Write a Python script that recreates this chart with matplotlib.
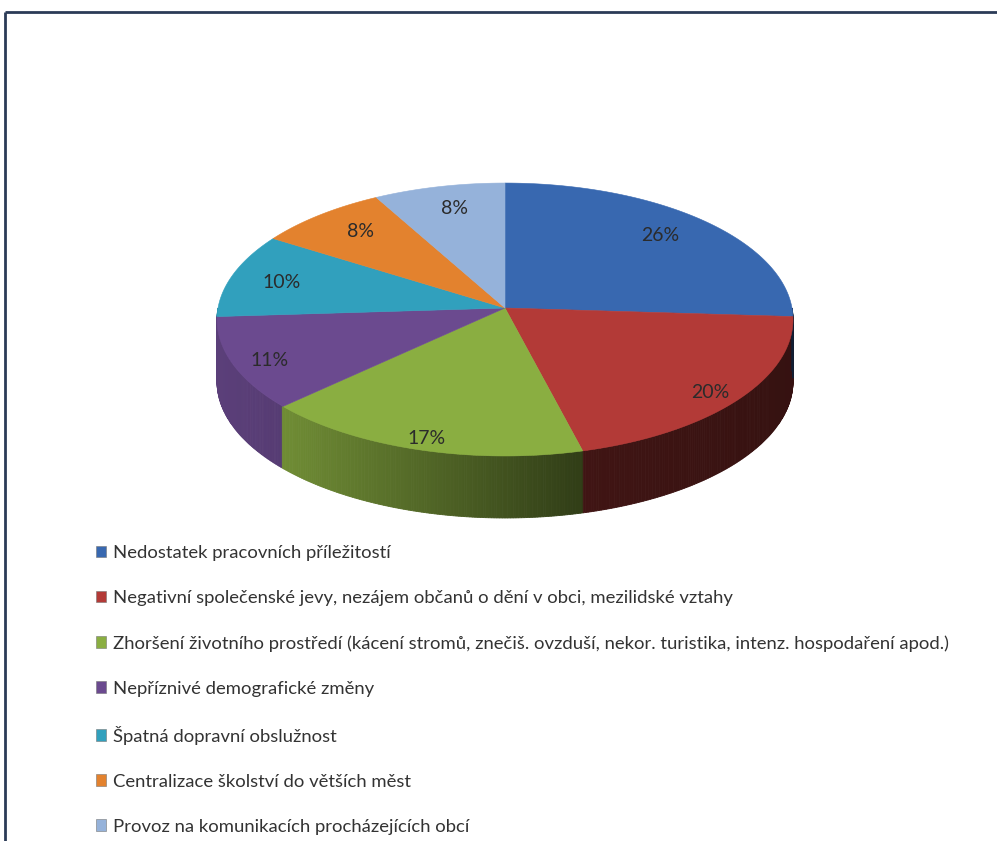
import numpy as np
import matplotlib.pyplot as plt
from matplotlib.patches import Polygon, Patch

plt.rcParams['font.family'] = ['Lato', 'DejaVu Sans']

categories = [
    "Nedostatek pracovních příležitostí",
    "Negativní společenské jevy, nezájem občanů o dění v obci, mezilidské vztahy",
    "Zhoršení životního prostředí (kácení stromů, znečiš. ovzduší, nekor. turistika, intenz. hospodaření apod.)",
    "Nepříznivé demografické změny",
    "Špatná dopravní obslužnost",
    "Centralizace školství do větších měst",
    "Provoz na komunikacích procházejících obcí",
]
shares = [26, 20, 17, 11, 10, 8, 8]
colors = ["#3868b0", "#b33a37", "#8aae41", "#6b4a8f", "#31a0bd", "#e3822e", "#95b2da"]

# geometry of the 3D pie (pixels)
cx, cy = 505, 308
A, B = 287, 135.5
persp = 0.0843
depth = 62


def project(theta_deg, r=1.0):
    t = np.radians(theta_deg)
    u = r * np.cos(t)
    v = -r * np.sin(t)
    w = 1.0 / (1.0 - persp * v)
    return cx + A * u * w, cy + B * v * w


def shade(hex_color, f):
    rgb = np.array(plt.matplotlib.colors.to_rgb(hex_color))
    return tuple(np.clip(rgb * f, 0, 1))


fig = plt.figure(figsize=(9.97, 8.41), dpi=100)
ax = fig.add_axes([0, 0, 1, 1])
ax.set_xlim(0, 997)
ax.set_ylim(841, 0)
ax.axis("off")

fracs = np.array(shares) / np.sum(shares)
cum = np.concatenate([[0], np.cumsum(fracs)])

# side wall (front half only)
thetas = np.linspace(-180, 0, 361)
for t0, t1 in zip(thetas[:-1], thetas[1:]):
    tm = 0.5 * (t0 + t1)
    d = ((90 - tm) % 360) / 360
    idx = min(np.searchsorted(cum, d) - 1, len(shares) - 1)
    x0, y0 = project(t0)
    x1, y1 = project(t1)
    nx = ((x0 + x1) / 2 - cx) / A
    f = np.interp(nx, [-1, -0.75, 0.25, 1], [0.85, 0.8, 0.36, 0.3])
    c = shade(colors[idx], f)
    ax.add_patch(Polygon([(x0, y0), (x1, y1), (x1, y1 + depth), (x0, y0 + depth)],
                         closed=True, facecolor=c, edgecolor=c, linewidth=0.6))

# top face + percentage labels
for i, col in enumerate(colors):
    a_start = 90 - cum[i] * 360
    a_end = 90 - cum[i + 1] * 360
    ts = np.linspace(a_start, a_end, 200)
    xs, ys = project(ts)
    pts = [(cx, cy)] + list(zip(xs, ys))
    ax.add_patch(Polygon(pts, closed=True, facecolor=col, edgecolor=col, linewidth=0.4))
    mid = np.radians(0.5 * (a_start + a_end))
    u, v = np.cos(mid), -np.sin(mid)
    lx = cx + A * u * (0.84 + 0.14 * v)
    ly = cy + B * v * (0.88 + 0.1 * v) + 3
    ax.text(lx, ly, f"{shares[i]}%", ha="center", va="center", fontsize=14, color="#2b2b2b")

# legend
handles = [Patch(facecolor=c, edgecolor="#777777", linewidth=0.4) for c in colors]
ax.legend(handles, categories, loc="upper left", bbox_to_anchor=(96 / 997, 1 - 545 / 841),
          frameon=False, fontsize=13.3, labelspacing=1.57, handlelength=0.55, handleheight=0.55,
          handletextpad=0.35, borderaxespad=0, borderpad=0, labelcolor="#333333")

# chart frame (only top and left edges fall inside the picture)
ax.plot([4.5, 997], [11.5, 11.5], color="#2b3b57", linewidth=2, solid_capstyle="butt")
ax.plot([4.5, 4.5], [11.5, 841], color="#2b3b57", linewidth=2, solid_capstyle="butt")

fig.savefig("out.png", dpi=100)
